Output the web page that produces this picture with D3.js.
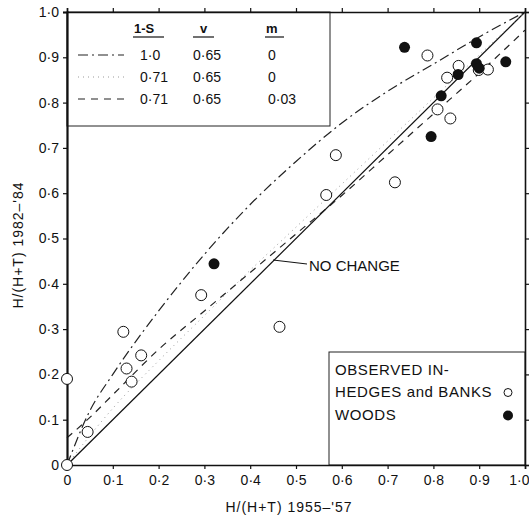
<!DOCTYPE html>
<html>
<head>
<meta charset="utf-8">
<script src="https://d3js.org/d3.v7.min.js"></script>
<style>
  body { margin: 0; background: #fff; }
  text { font-family: "Liberation Sans", Arial, sans-serif; fill: #111; }
</style>
</head>
<body>
<svg width="529" height="517"></svg>
<script>
// values
var ticks = [0, 0.1, 0.2, 0.3, 0.4, 0.5, 0.6, 0.7, 0.8, 0.9, 1.0];
var tickLabels = ["0", "0·1", "0·2", "0·3", "0·4", "0·5", "0·6", "0·7", "0·8", "0·9", "1·0"];

// open circles: hedges and banks
var hedges = [[0, 0], [0, 0.19], [0.045, 0.073], [0.123, 0.294], [0.13, 0.213], [0.141, 0.184],
  [0.162, 0.242], [0.293, 0.375], [0.464, 0.305], [0.566, 0.596], [0.587, 0.684], [0.716, 0.624],
  [0.787, 0.904], [0.809, 0.785], [0.837, 0.765], [0.83, 0.855], [0.855, 0.881], [0.899, 0.872],
  [0.919, 0.873]];
// filled circles: woods
var woods = [[0.321, 0.444], [0.737, 0.922], [0.795, 0.725], [0.817, 0.815], [0.854, 0.862],
  [0.894, 0.932], [0.894, 0.886], [0.9, 0.876], [0.958, 0.89]];

// model curves
var curveX = [0, 0.05, 0.1, 0.2, 0.3, 0.4, 0.5, 0.6, 0.7, 0.8, 0.9, 1.0];
var curveA = [0, 0.12, 0.20, 0.34, 0.465, 0.575, 0.67, 0.755, 0.825, 0.885, 0.945, 1.0];   // 1-S 1.0
var curveB = [0, 0.065, 0.125, 0.23, 0.33, 0.43, 0.525, 0.62, 0.715, 0.81, 0.905, 1.0];   // 1-S 0.71
var curveC = [0.06, 0.105, 0.155, 0.255, 0.34, 0.425, 0.51, 0.595, 0.685, 0.775, 0.865, 0.96]; // m 0.03

var legS = ["1·0", "0·71", "0·71"];
var legV = ["0·65", "0·65", "0·65"];
var legM = ["0", "0", "0·03"];

var svg = d3.select("svg");
var x = d3.scaleLinear().domain([0, 1]).range([67, 525]);
var y = d3.scaleLinear().domain([0, 1]).range([465, 12]);

var styles = [
  { dash: "10,4,2,4", color: "#222", w: 1.2 },
  { dash: "1,4", color: "#999", w: 1 },
  { dash: "7,6", color: "#222", w: 1.2 }
];
var curves = [curveA, curveB, curveC];

// no change line
svg.append("line")
  .attr("x1", x(0)).attr("y1", y(0)).attr("x2", x(1)).attr("y2", y(1))
  .attr("stroke", "#111").attr("stroke-width", 1.2);

var line = d3.line()
  .x(function(d) { return x(d[0]); })
  .y(function(d) { return y(d[1]); })
  .curve(d3.curveMonotoneX);

curves.forEach(function(c, i) {
  svg.append("path")
    .datum(curveX.map(function(v, j) { return [v, c[j]]; }))
    .attr("d", line)
    .attr("fill", "none")
    .attr("stroke", styles[i].color)
    .attr("stroke-width", styles[i].w)
    .attr("stroke-dasharray", styles[i].dash);
});

// legend boxes
svg.append("rect").attr("x", x(0)).attr("y", y(1)).attr("width", 263).attr("height", 114)
  .attr("fill", "#fff").attr("stroke", "#222").attr("stroke-width", 1);
svg.append("rect").attr("x", 329).attr("y", 352).attr("width", x(1) - 329).attr("height", y(0) - 352)
  .attr("fill", "#fff").attr("stroke", "#222").attr("stroke-width", 1);

// axes
var fmt = function(d) { return tickLabels[ticks.indexOf(d)]; };
var gx = svg.append("g").attr("transform", "translate(0," + y(0) + ")")
  .call(d3.axisBottom(x).tickValues(ticks).tickFormat(fmt).tickSize(4).tickPadding(6));
var gy = svg.append("g").attr("transform", "translate(" + x(0) + ",0)")
  .call(d3.axisLeft(y).tickValues(ticks).tickFormat(fmt).tickSize(4).tickPadding(4));
var gt = svg.append("g").attr("transform", "translate(0," + y(1) + ")")
  .call(d3.axisTop(x).tickValues(ticks).tickFormat("").tickSize(4));
var gr = svg.append("g").attr("transform", "translate(" + x(1) + ",0)")
  .call(d3.axisRight(y).tickValues(ticks).tickFormat("").tickSize(4));
[gx, gy, gt, gr].forEach(function(g) {
  g.selectAll("path").attr("stroke", "#111").attr("stroke-width", 1.6);
  g.selectAll("line").attr("stroke", "#111").attr("stroke-width", 1.2);
  g.selectAll("text").style("font-family", "Liberation Sans, Arial, sans-serif")
    .style("font-size", "14px").attr("fill", "#111");
});
gy.select("path").attr("stroke-width", 2.2);
// last x label sits at the page edge
gx.selectAll("text").filter(function(d) { return d === 1; })
  .attr("text-anchor", "end").attr("x", 529 - x(1));

// points
svg.append("g").selectAll("circle").data(hedges).join("circle")
  .attr("cx", function(d) { return x(d[0]); }).attr("cy", function(d) { return y(d[1]); })
  .attr("r", 5.5).attr("fill", "#fff").attr("stroke", "#111").attr("stroke-width", 1);
svg.append("g").selectAll("circle").data(woods).join("circle")
  .attr("cx", function(d) { return x(d[0]); }).attr("cy", function(d) { return y(d[1]); })
  .attr("r", 5.5).attr("fill", "#111");

// top legend contents
svg.append("g").selectAll("text").data(["1-S", "v", "m"]).join("text")
  .attr("x", function(d, i) { return [134, 200, 266][i]; }).attr("y", 33)
  .style("font-size", "13px").style("font-weight", "bold").text(function(d) { return d; });
[[133, 164], [193, 214], [265, 284]].forEach(function(u) {
  svg.append("line").attr("x1", u[0]).attr("x2", u[1]).attr("y1", 37).attr("y2", 37)
    .attr("stroke", "#111").attr("stroke-width", 1.2);
});
var rowY = [60, 82, 104];
rowY.forEach(function(ry, i) {
  svg.append("line").attr("x1", 78).attr("x2", 124).attr("y1", ry - 5).attr("y2", ry - 5)
    .attr("stroke", styles[i].color).attr("stroke-width", styles[i].w)
    .attr("stroke-dasharray", styles[i].dash);
  svg.append("text").attr("x", 140).attr("y", ry).style("font-size", "14px").text(legS[i]);
  svg.append("text").attr("x", 193).attr("y", ry).style("font-size", "14px").text(legV[i]);
  svg.append("text").attr("x", 268).attr("y", ry).style("font-size", "14px").text(legM[i]);
});

// bottom legend contents
var legText = svg.append("g").style("font-size", "15px").style("letter-spacing", "0.6px");
legText.append("text").attr("x", 335).attr("y", 375).text("OBSERVED IN-");
legText.append("text").attr("x", 335).attr("y", 397).text("HEDGES and BANKS");
legText.append("text").attr("x", 335).attr("y", 420).text("WOODS");
svg.append("circle").attr("cx", 508).attr("cy", 392.5).attr("r", 4)
  .attr("fill", "#fff").attr("stroke", "#111").attr("stroke-width", 1);
svg.append("circle").attr("cx", 508).attr("cy", 415.5).attr("r", 5).attr("fill", "#111");

// no change label
svg.append("line").attr("x1", 273).attr("y1", 260).attr("x2", 307).attr("y2", 264)
  .attr("stroke", "#111").attr("stroke-width", 1);
svg.append("text").attr("x", 309).attr("y", 271).style("font-size", "15px").text("NO CHANGE");

// axis titles
svg.append("text").attr("x", 289).attr("y", 512).attr("text-anchor", "middle")
  .style("font-size", "14px").style("letter-spacing", "1px").text("H/(H+T) 1955–'57");
svg.append("text").attr("transform", "translate(23,245) rotate(-90)").attr("text-anchor", "middle")
  .style("font-size", "14px").style("letter-spacing", "1px").text("H/(H+T) 1982–'84");
</script>
</body>
</html>
